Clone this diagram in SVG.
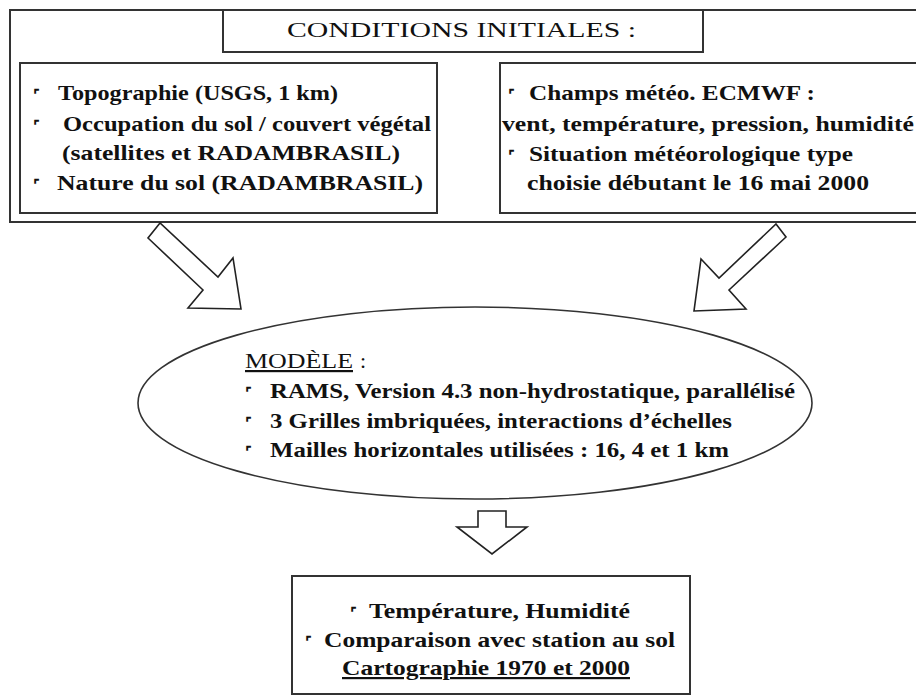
<svg xmlns="http://www.w3.org/2000/svg" width="916" height="699" viewBox="0 0 916 699">
<style>
.box{fill:#fff;stroke:#333;stroke-width:2}
.arr{fill:#fff;stroke:#222;stroke-width:1.6;stroke-linejoin:miter}
text{font-family:'Liberation Serif','DejaVu Serif',serif;font-size:22px;fill:#111}
.b{font-weight:bold}
text.bul{font-family:'DejaVu Sans',sans-serif;font-size:15px;font-weight:bold}
</style>
<rect width="916" height="699" fill="#fff"/>
<g id="conditions" font-family="Liberation Serif">
<rect class="box" x="10" y="10" width="920" height="212"/>
<g id="title">
<rect class="box" x="223" y="10" width="480" height="42"/>
<text x="287" y="37" font-size="23" textLength="349" lengthAdjust="spacingAndGlyphs">CONDITIONS INITIALES :</text>
</g>
<g id="left-box">
<rect class="box" x="20" y="63" width="417" height="150"/>
<text class="bul" x="33" y="100">⌜</text>
<text class="b" x="58" y="100" textLength="280" lengthAdjust="spacingAndGlyphs">Topographie (USGS, 1 km)</text>
<text class="bul" x="33" y="131">⌜</text>
<text class="b" x="63" y="131" textLength="368" lengthAdjust="spacingAndGlyphs">Occupation du sol / couvert végétal</text>
<text class="b" x="62" y="160" textLength="338" lengthAdjust="spacingAndGlyphs">(satellites et RADAMBRASIL)</text>
<text class="bul" x="33" y="190">⌜</text>
<text class="b" x="57" y="190" textLength="366" lengthAdjust="spacingAndGlyphs">Nature du sol (RADAMBRASIL)</text>
</g>
<g id="right-box">
<rect class="box" x="500" y="63" width="430" height="150"/>
<text class="bul" x="508" y="100">⌜</text>
<text class="b" x="529" y="100" textLength="286" lengthAdjust="spacingAndGlyphs">Champs météo. ECMWF :</text>
<text class="b" x="502" y="131" textLength="412" lengthAdjust="spacingAndGlyphs">vent, température, pression, humidité</text>
<text class="bul" x="508" y="161">⌜</text>
<text class="b" x="529" y="161" textLength="324" lengthAdjust="spacingAndGlyphs">Situation météorologique type</text>
<text class="b" x="527" y="190" textLength="342" lengthAdjust="spacingAndGlyphs">choisie débutant le 16 mai 2000</text>
</g>
</g>
<g id="connectors">
<polygon class="arr" points="160,223 148,238 203,290 188,308 241,309 233,258 218,277"/>
<polygon class="arr" points="776,224 786,237 729,290 746,309 694,311 701,259 719,278"/>
<polygon class="arr" points="478,511 506,511 506,527 527,527 492,554 457,527 478,527"/>
</g>
<g id="modele">
<ellipse class="box" cx="475" cy="403" rx="337" ry="96" style="stroke-width:1.6"/>
<text x="245" y="368" textLength="108" lengthAdjust="spacingAndGlyphs" text-decoration="underline">MODÈLE</text>
<text x="360" y="368">:</text>
<text class="bul" x="245" y="398">⌜</text>
<text class="b" x="270" y="398" textLength="525" lengthAdjust="spacingAndGlyphs">RAMS, Version 4.3 non-hydrostatique, parallélisé</text>
<text class="bul" x="245" y="428">⌜</text>
<text class="b" x="270" y="428" textLength="462" lengthAdjust="spacingAndGlyphs">3 Grilles imbriquées, interactions d’échelles</text>
<text class="bul" x="245" y="457">⌜</text>
<text class="b" x="270" y="457" textLength="459" lengthAdjust="spacingAndGlyphs">Mailles horizontales utilisées : 16, 4 et 1 km</text>
</g>
<g id="resultats">
<rect class="box" x="292" y="576" width="398" height="118"/>
<text class="bul" x="350" y="618">⌜</text>
<text class="b" x="369" y="618" textLength="261" lengthAdjust="spacingAndGlyphs">Température, Humidité</text>
<text class="bul" x="305" y="647">⌜</text>
<text class="b" x="324" y="647" textLength="351" lengthAdjust="spacingAndGlyphs">Comparaison avec station au sol</text>
<text class="b" x="342" y="675" textLength="288" lengthAdjust="spacingAndGlyphs" text-decoration="underline">Cartographie 1970 et 2000</text>
</g>
</svg>
